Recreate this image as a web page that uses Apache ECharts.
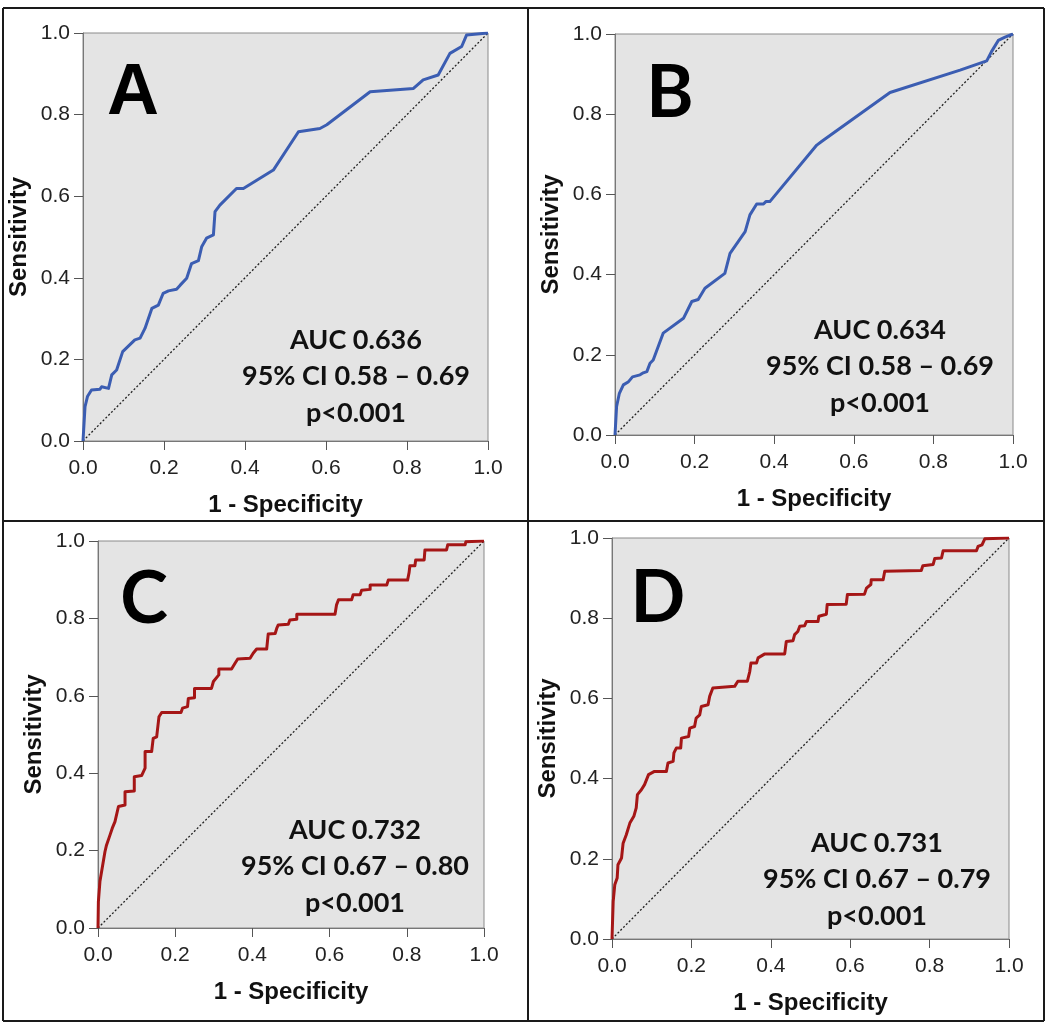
<!DOCTYPE html>
<html>
<head>
<meta charset="utf-8">
<script src="https://cdn.jsdelivr.net/npm/echarts@6/dist/echarts.min.js"></script>
<style>
html,body{margin:0;padding:0;background:#fff;}
#chart{width:1050px;height:1024px;}
</style>
</head>
<body>
<div id="chart"></div>
<script>
// ---- data ----
var tickValues = [0, 0.2, 0.4, 0.6, 0.8, 1.0];
var panelLetters = ['A', 'B', 'C', 'D'];
var aucLabels = ['AUC 0.636', 'AUC 0.634', 'AUC 0.732', 'AUC 0.731'];
var ciLabels = ['95% CI 0.58 \u2013 0.69', '95% CI 0.58 \u2013 0.69', '95% CI 0.67 \u2013 0.80', '95% CI 0.67 \u2013 0.79'];
var pLabels = ['p<0.001', 'p<0.001', 'p<0.001', 'p<0.001'];
var xAxisTitle = '1 - Specificity';
var yAxisTitle = 'Sensitivity';

var rocA_fpr = [0,0.005,0.011,0.021,0.042,0.046,0.063,0.071,0.083,0.098,0.128,0.141,0.153,0.170,0.186,0.198,0.211,0.231,0.240,0.256,0.268,0.285,0.293,0.305,0.322,0.326,0.338,0.379,0.396,0.470,0.532,0.585,0.602,0.709,0.816,0.840,0.877,0.906,0.935,0.947,1.0];
var rocA_tpr = [0,0.084,0.109,0.125,0.127,0.133,0.129,0.162,0.174,0.219,0.248,0.252,0.276,0.325,0.333,0.362,0.368,0.372,0.382,0.399,0.435,0.442,0.476,0.497,0.505,0.562,0.578,0.619,0.619,0.664,0.758,0.766,0.775,0.856,0.864,0.885,0.897,0.950,0.967,0.995,1.0];

var rocB_fpr = [0,0.004,0.011,0.021,0.034,0.044,0.063,0.071,0.080,0.088,0.096,0.121,0.172,0.193,0.209,0.226,0.276,0.289,0.327,0.339,0.356,0.373,0.379,0.389,0.507,0.519,0.691,0.867,0.934,0.946,0.963,0.980,1.0];
var rocB_tpr = [0,0.071,0.104,0.125,0.133,0.145,0.150,0.155,0.158,0.179,0.187,0.254,0.291,0.333,0.338,0.366,0.403,0.453,0.507,0.549,0.576,0.576,0.582,0.582,0.723,0.732,0.854,0.910,0.933,0.956,0.984,0.992,1.0];

var rocC_fpr = [0,0.001,0.005,0.018,0.022,0.031,0.037,0.044,0.053,0.070,0.070,0.094,0.094,0.113,0.122,0.122,0.139,0.143,0.152,0.158,0.165,0.215,0.219,0.232,0.234,0.250,0.250,0.294,0.299,0.313,0.313,0.346,0.355,0.362,0.394,0.402,0.411,0.437,0.441,0.459,0.463,0.467,0.493,0.497,0.515,0.515,0.614,0.618,0.623,0.657,0.661,0.679,0.683,0.705,0.705,0.748,0.752,0.802,0.806,0.808,0.821,0.823,0.845,0.847,0.903,0.906,0.951,0.953,1.0];
var rocC_tpr = [0,0.068,0.120,0.197,0.214,0.240,0.258,0.275,0.314,0.318,0.352,0.354,0.391,0.394,0.413,0.456,0.456,0.490,0.494,0.546,0.557,0.557,0.568,0.572,0.593,0.595,0.619,0.619,0.637,0.654,0.669,0.669,0.684,0.695,0.697,0.710,0.721,0.721,0.760,0.761,0.774,0.783,0.785,0.796,0.798,0.811,0.811,0.835,0.848,0.848,0.861,0.861,0.873,0.875,0.886,0.886,0.899,0.899,0.919,0.936,0.936,0.951,0.951,0.977,0.977,0.990,0.990,0.998,1.0];

var rocD_fpr = [0,0.003,0.007,0.013,0.015,0.024,0.028,0.036,0.045,0.055,0.061,0.064,0.074,0.082,0.092,0.107,0.137,0.141,0.154,0.156,0.162,0.173,0.175,0.193,0.196,0.208,0.212,0.221,0.225,0.242,0.246,0.254,0.259,0.309,0.317,0.341,0.347,0.350,0.364,0.368,0.385,0.435,0.439,0.456,0.460,0.468,0.473,0.485,0.490,0.519,0.521,0.540,0.542,0.590,0.593,0.636,0.641,0.652,0.653,0.683,0.687,0.779,0.783,0.809,0.813,0.830,0.834,0.918,0.922,0.932,0.939,1.0];
var rocD_tpr = [0,0.094,0.135,0.152,0.185,0.202,0.239,0.260,0.289,0.306,0.327,0.360,0.372,0.385,0.410,0.418,0.418,0.439,0.443,0.464,0.476,0.476,0.501,0.505,0.526,0.530,0.551,0.559,0.580,0.584,0.605,0.626,0.630,0.630,0.643,0.643,0.667,0.688,0.688,0.701,0.711,0.711,0.742,0.744,0.759,0.767,0.780,0.781,0.792,0.792,0.805,0.810,0.834,0.835,0.859,0.860,0.875,0.884,0.896,0.896,0.917,0.919,0.931,0.934,0.949,0.950,0.968,0.968,0.979,0.983,0.998,1.0];

var chanceX = [0, 1];
var chanceY = [0, 1];

// ---- layout / style ----
var curves = [[rocA_fpr, rocA_tpr], [rocB_fpr, rocB_tpr], [rocC_fpr, rocC_tpr], [rocD_fpr, rocD_tpr]];
var curveColors = ['#3b5db2', '#3b5db2', '#a51616', '#a51616'];
var grids = [
  {left: 83, top: 33, width: 405, height: 408},
  {left: 615, top: 34, width: 398, height: 401},
  {left: 98, top: 541, width: 386, height: 387},
  {left: 612, top: 538, width: 397, height: 401}
];
var letterPos = [[133, 94], [670, 94], [144, 600], [658, 599]];
var statPos = [[356, 340], [880, 330], [355, 830], [877, 843]];
var statGap = 36.5;

function zip(xs, ys) { return xs.map(function (x, i) { return [x, ys[i]]; }); }

var gridOpts = [], xAxes = [], yAxes = [], series = [], graphics = [];
var axisFont = 'Liberation Sans, Arial, sans-serif';
grids.forEach(function (g, i) {
  gridOpts.push({left: g.left, top: g.top, width: g.width, height: g.height, show: true,
    backgroundColor: '#e4e4e4', borderColor: '#8a8a8a', borderWidth: 1, containLabel: false});
  var common = {
    gridIndex: i, type: 'value', min: tickValues[0], max: tickValues[tickValues.length - 1], interval: 0.2,
    splitLine: {show: false},
    axisLine: {show: true, lineStyle: {color: '#777', width: 1}},
    axisTick: {show: true, length: 9, lineStyle: {color: '#555', width: 1}},
    nameLocation: 'middle', nameGap: 52,
    nameTextStyle: {fontFamily: axisFont, fontWeight: 'bold', fontSize: 24, color: '#111'},
    axisLabel: {fontFamily: axisFont, fontSize: 21, color: '#222', formatter: function (v) { return v.toFixed(1); }}
  };
  xAxes.push(Object.assign({}, common, {name: xAxisTitle,
    axisLabel: Object.assign({}, common.axisLabel, {margin: 17})}));
  yAxes.push(Object.assign({}, common, {name: yAxisTitle,
    axisLabel: Object.assign({}, common.axisLabel, {margin: 13})}));
  series.push({type: 'line', xAxisIndex: i, yAxisIndex: i, data: zip(chanceX, chanceY), symbol: 'none',
    silent: true, lineStyle: {color: '#222', width: 1.3, type: [2, 2]}, z: 2});
  series.push({type: 'line', xAxisIndex: i, yAxisIndex: i, data: zip(curves[i][0], curves[i][1]), symbol: 'none',
    silent: true, lineStyle: {color: curveColors[i], width: 3, join: 'round'}, z: 3});

  graphics.push({type: 'text', x: letterPos[i][0], y: letterPos[i][1], z: 10,
    style: {text: panelLetters[i], fill: '#000', align: 'center', verticalAlign: 'middle',
      font: (i === 0 ? 'bold 72px Liberation Sans, Arial, sans-serif' : 'bold 72px Lato, sans-serif')}});
  [aucLabels[i], ciLabels[i], pLabels[i]].forEach(function (t, k) {
    graphics.push({type: 'text', x: statPos[i][0], y: statPos[i][1] + k * statGap, z: 10,
      style: {text: t, fill: '#111', align: 'center', verticalAlign: 'middle', font: 'bold 27px Lato, sans-serif'}});
  });
});

// figure frame lines
var frame = [
  [3, 8, 1044, 8], [3, 1021, 1044, 1021], [3, 8, 3, 1021], [1044, 8, 1044, 1021],
  [528, 8, 528, 1021], [3, 521, 1044, 521]
];
frame.forEach(function (f) {
  graphics.push({type: 'line', shape: {x1: f[0], y1: f[1], x2: f[2], y2: f[3]}, z: 20,
    style: {stroke: '#1a1a1a', lineWidth: 2}});
});

var chart = echarts.init(document.getElementById('chart'), null, {renderer: 'canvas'});
chart.setOption({
  animation: false,
  backgroundColor: '#fff',
  grid: gridOpts,
  xAxis: xAxes,
  yAxis: yAxes,
  series: series,
  graphic: graphics
});
</script>
</body>
</html>
